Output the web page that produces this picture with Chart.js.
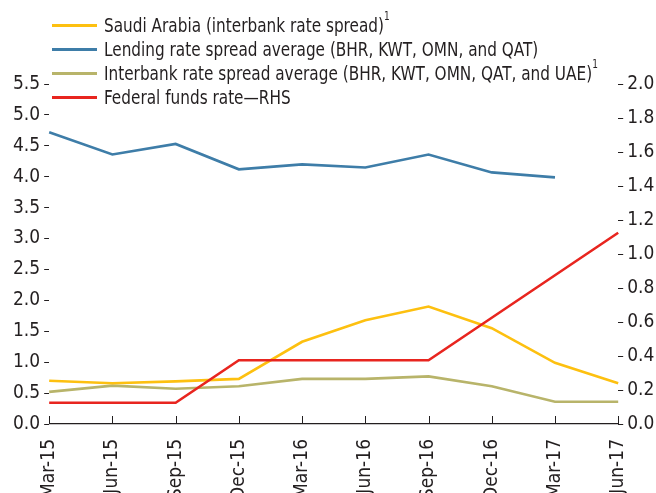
<!doctype html>
<html lang="en">
  <head>
    <meta charset="utf-8">
    <title>Spreads and federal funds rate</title>
    <style>
      * {
        margin: 0;
        padding: 0;
        font-family: "DejaVu Sans Condensed", "DejaVu Sans", sans-serif;
      }
      body {
        background: white;
      }
      .chartBox {
        position: relative;
        width: 656px;
        height: 493px;
      }
      .legend {
        position: absolute;
        left: 52px;
        top: 13px;
        color: #231f20;
        font-size: 17px;
      }
      .legend .row {
        height: 24px;
        line-height: 24px;
        display: flex;
        align-items: center;
        white-space: nowrap;
      }
      .legend .swatch {
        width: 45px;
        height: 3px;
        margin-right: 7px;
      }
      .legend .txt {
        display: inline-block;
        transform: scaleY(1.18);
      }
      .legend sup {
        font-size: 10px;
        line-height: 0;
        position: relative;
        top: -3px;
      }
    </style>
  </head>
  <body>
    <div class="chartBox">
      <canvas id="myChart" width="656" height="493"></canvas>
      <div class="legend" id="legend"></div>
    </div>
    <script src="https://cdn.jsdelivr.net/npm/chart.js/dist/chart.umd.min.js"></script>
    <script>
    const quarters = ['Mar-15', 'Jun-15', 'Sep-15', 'Dec-15', 'Mar-16',
                      'Jun-16', 'Sep-16', 'Dec-16', 'Mar-17', 'Jun-17'];
    const saudiSpread = [0.70, 0.66, 0.69, 0.73, 1.33, 1.68, 1.90, 1.55, 0.99, 0.66];
    const lendingSpread = [4.72, 4.36, 4.53, 4.12, 4.20, 4.15, 4.36, 4.07, 3.99, null];
    const interbankSpread = [0.52, 0.62, 0.57, 0.61, 0.73, 0.73, 0.77, 0.61, 0.36, 0.36];
    const fedFunds = [0.125, 0.125, 0.125, 0.375, 0.375, 0.375, 0.375, 0.625, 0.875, 1.125];

    const leftTicks = [0, 0.5, 1, 1.5, 2, 2.5, 3, 3.5, 4, 4.5, 5, 5.5];
    const rightTicks = [0, 0.2, 0.4, 0.6, 0.8, 1, 1.2, 1.4, 1.6, 1.8, 2];

    const seriesNames = [
      'Saudi Arabia (interbank rate spread)',
      'Lending rate spread average (BHR, KWT, OMN, and QAT)',
      'Interbank rate spread average (BHR, KWT, OMN, QAT, and UAE)',
      'Federal funds rate\u2014RHS'
    ];
    const footnotes = ['1', '', '1', ''];

    const ink = '#231f20';
    const colors = ['#fdc010', '#3e7da8', '#b8b46a', '#e8251f'];
    const tickFont = {size: 19, family: '"DejaVu Sans Condensed", "DejaVu Sans", sans-serif'};

    // inward tick marks on the x axis
    const upTicks = {
      id: 'upTicks',
      afterDraw(chart) {
        const {ctx, chartArea, scales: {x}} = chart;
        ctx.save();
        ctx.strokeStyle = ink;
        ctx.lineWidth = 1;
        x.ticks.forEach((t, i) => {
          const px = Math.round(x.getPixelForTick(i)) + 0.5;
          ctx.beginPath();
          ctx.moveTo(px, chartArea.bottom);
          ctx.lineTo(px, chartArea.bottom - 8);
          ctx.stroke();
        });
        ctx.restore();
      }
    };

    const line = (i, data, axis) => ({
      label: seriesNames[i],
      data: data,
      borderColor: colors[i],
      backgroundColor: colors[i],
      borderWidth: 2.6,
      pointRadius: 0,
      tension: 0,
      yAxisID: axis
    });

    const data = {
      labels: quarters,
      datasets: [
        line(3, fedFunds, 'yRight'),
        line(0, saudiSpread, 'y'),
        line(2, interbankSpread, 'y'),
        line(1, lendingSpread, 'y')
      ]
    };
    data.datasets.forEach((d, i) => { d.order = i; });

    const config = {
      type: 'line',
      data,
      options: {
        responsive: false,
        animation: false,
        layout: {padding: {top: 84, right: -3, left: 9, bottom: 0}},
        plugins: {
          legend: {display: false},
          tooltip: {enabled: false}
        },
        scales: {
          x: {
            grid: {display: false, drawTicks: false},
            border: {display: true, color: ink, width: 1.3},
            // labels run past the bottom edge, as in the original
            afterFit: s => { s.height -= 22; },
            ticks: {
              color: ink,
              font: tickFont,
              minRotation: 90,
              maxRotation: 90,
              padding: 15,
              autoSkip: false
            }
          },
          y: {
            position: 'left',
            min: 0,
            max: 5.5,
            afterBuildTicks: s => { s.ticks = leftTicks.map(v => ({value: v})); },
            grid: {drawOnChartArea: false, tickLength: 5, tickColor: ink, tickWidth: 1},
            border: {display: false},
            ticks: {color: ink, font: tickFont, padding: 4, callback: v => v.toFixed(1)}
          },
          yRight: {
            position: 'right',
            min: 0,
            max: 2,
            afterBuildTicks: s => { s.ticks = rightTicks.map(v => ({value: v})); },
            grid: {drawOnChartArea: false, tickLength: 5, tickColor: ink, tickWidth: 1},
            border: {display: false},
            ticks: {color: ink, font: tickFont, padding: 4, callback: v => v.toFixed(1)}
          }
        }
      },
      plugins: [upTicks]
    };

    const myChart = new Chart(document.getElementById('myChart'), config);

    // legend in the original series order
    const legend = document.getElementById('legend');
    seriesNames.forEach((name, i) => {
      const row = document.createElement('div');
      row.className = 'row';
      const sw = document.createElement('span');
      sw.className = 'swatch';
      sw.style.background = colors[i];
      const txt = document.createElement('span');
      txt.className = 'txt';
      txt.textContent = name;
      if (footnotes[i]) {
        const sup = document.createElement('sup');
        sup.textContent = footnotes[i];
        txt.appendChild(sup);
      }
      row.appendChild(sw);
      row.appendChild(txt);
      legend.appendChild(row);
    });
    </script>
  </body>
</html>
